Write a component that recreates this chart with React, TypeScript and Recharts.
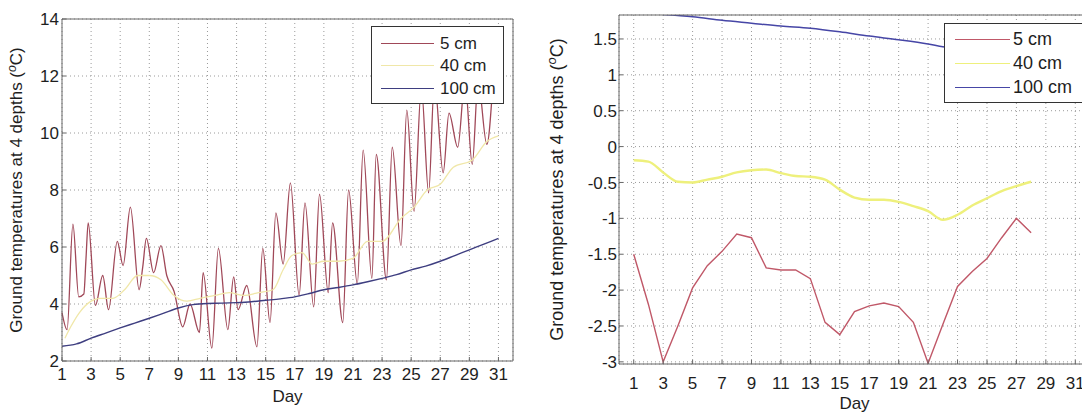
import { LineChart, Line, XAxis, YAxis, CartesianGrid, Legend } from "recharts";

const FONT = "'Liberation Sans', Arial, Helvetica, sans-serif";

// ---- left panel: sub-daily record, 5 cm traced through its peaks and troughs ----
const leftDays5 = [
  1.0, 1.35, 1.75, 2.15, 2.5, 2.65, 2.8, 3.3, 3.8, 4.2, 4.8, 5.2, 5.7, 6.3, 6.55, 6.8, 7.3, 7.8, 8.2, 8.7,
  9.3, 9.8, 10.45, 10.7, 11.3, 11.75, 12.4, 12.8, 13.1, 13.7, 14.4, 14.8, 15.3, 15.7, 16.2, 16.7, 17.3,
  17.7, 18.3, 18.7, 19.3, 19.6, 20.3, 20.7, 21.3, 21.7, 22.3, 22.6, 23.3, 23.7, 24.3, 24.7, 25.2, 25.7,
  26.2, 26.6, 27.2, 27.6, 28.2, 28.7, 29.2, 29.6, 30.2, 30.6,
];
const leftTemp5 = [
  3.7, 3.1, 6.8, 4.25, 4.35, 5.6, 6.85, 3.95, 5.0, 3.8, 6.2, 5.35, 7.4, 4.5, 5.3, 6.3, 5.1, 6.05, 5.0, 4.45,
  3.2, 4.0, 3.0, 5.1, 2.45, 5.95, 3.1, 4.95, 3.8, 4.65, 2.5, 5.95, 3.35, 7.2, 5.4, 8.25, 4.3,
  7.55, 3.9, 7.85, 4.4, 6.85, 3.35, 8.0, 4.7, 9.4, 4.9, 9.25, 4.85, 9.5, 6.05, 10.8, 7.25, 11.6,
  7.9, 11.8, 8.6, 10.7, 9.5, 11.8, 8.9, 11.8, 9.6, 11.6,
];
const leftDays40 = [
  1.2, 1.6, 2.2, 3.0, 3.6, 4.5, 5.3, 6.2, 7.0, 7.8, 8.7, 9.6, 10.5, 11.5, 12.5, 13.5, 14.5, 15.5, 16.2,
  16.8, 17.5, 18.2, 19.0, 20.0, 21.0, 22.0, 23.0, 24.3, 25.2, 26.1, 27.0, 27.9, 29.2, 30.2, 31.0,
];
const leftTemp40 = [
  2.8, 3.2, 3.7, 4.1, 4.2, 4.2, 4.5, 5.0, 5.0, 4.85, 4.3, 4.1, 4.2, 4.3, 4.4, 4.3, 4.4, 4.5, 5.2,
  5.7, 5.8, 5.4, 5.5, 5.5, 5.6, 6.2, 6.2, 7.0, 7.4, 8.0, 8.2, 8.8, 9.05, 9.7, 9.9,
];
const leftDays100 = [
  1, 2, 3, 4, 5, 6, 7, 8, 9, 10, 11, 12, 13, 14, 15, 16, 17, 18, 19, 20, 21, 22, 23, 24, 25, 26, 27, 28, 29, 30, 31,
];
const leftTemp100 = [
  2.52, 2.6, 2.8, 2.98, 3.16, 3.33, 3.5, 3.68, 3.86, 3.98, 4.02, 4.03, 4.05, 4.08, 4.13, 4.18, 4.25, 4.37,
  4.5, 4.58, 4.67, 4.78, 4.9, 5.03, 5.2, 5.33, 5.5, 5.7, 5.9, 6.1, 6.3,
];
const leftTicksX = [1, 3, 5, 7, 9, 11, 13, 15, 17, 19, 21, 23, 25, 27, 29, 31];
const leftTicksY = [2, 4, 6, 8, 10, 12, 14];

// ---- right panel: daily means ----
const rightDays = [
  1, 2, 3, 4, 5, 6, 7, 8, 9, 10, 11, 12, 13, 14, 15, 16, 17, 18, 19, 20, 21, 22, 23, 24, 25, 26, 27, 28,
];
const rightTemp5 = [
  -1.5, -2.2, -3.0, -2.5, -1.97, -1.66, -1.46, -1.22, -1.27, -1.69, -1.72, -1.72, -1.84, -2.45,
  -2.62, -2.3, -2.22, -2.18, -2.23, -2.45, -3.02, -2.48, -1.95, -1.74, -1.56, -1.27, -1.0, -1.2,
];
const rightTemp40 = [
  -0.19, -0.21, -0.36, -0.49, -0.5, -0.46, -0.42, -0.36, -0.33, -0.32, -0.37, -0.41, -0.42, -0.46,
  -0.6, -0.71, -0.74, -0.74, -0.77, -0.83, -0.9, -1.02, -0.95, -0.82, -0.72, -0.62, -0.55, -0.49,
];
const rightDays100 = [3, 5, 7, 9, 11, 13, 15, 17, 19, 21, 22, 24, 26, 28];
const rightTemp100 = [1.84, 1.81, 1.76, 1.72, 1.68, 1.65, 1.6, 1.54, 1.49, 1.43, 1.39, 1.34, 1.29, 1.25];
const rightTicksX = [1, 3, 5, 7, 9, 11, 13, 15, 17, 19, 21, 23, 25, 27, 29, 31];
const rightTicksY = [-3, -2.5, -2, -1.5, -1, -0.5, 0, 0.5, 1, 1.5];

const seriesNames = ["5 cm", "40 cm", "100 cm"];
const leftColors = ["#a04858", "#f0e7a8", "#3e3e80"];
const rightColors = ["#c05868", "#eef07c", "#4646a6"];

const pts = (xs: number[], ys: number[]) => xs.map((d, i) => ({ day: d, t: ys[i] }));

const GRID = "#9a9a9a";
const AXIS = "#666";
const INK = "#1e1e1e";

const yLabel = (dx: number, size: number) => (p: any) => {
  const vb = p.viewBox || { x: 0, y: 0, width: 0, height: 0 };
  const cx = vb.x + vb.width - dx;
  const cy = vb.y + vb.height / 2;
  return (
    <text
      x={cx}
      y={cy}
      transform={`rotate(-90 ${cx} ${cy})`}
      textAnchor="middle"
      fontSize={size}
      fontFamily={FONT}
      fill={INK}
    >
      Ground temperatures at 4 depths (
      <tspan fontStyle="italic" fontSize={size * 0.72} dy={-size * 0.38}>
        o
      </tspan>
      <tspan dy={size * 0.38}>C)</tspan>
    </text>
  );
};

const xLabel = (dy: number, size: number) => (p: any) => {
  const vb = p.viewBox || { x: 0, y: 0, width: 0 };
  return (
    <text x={vb.x + vb.width / 2} y={vb.y + dy} textAnchor="middle" fontSize={size} fontFamily={FONT} fill={INK}>
      Day
    </text>
  );
};

function BoxLegend({ colors, width, row, lineW, padL, padT, gap, size }: any) {
  return (
    <div
      style={{
        width,
        boxSizing: "border-box",
        border: "1px solid #333",
        background: "#fff",
        padding: `${padT}px 0 3px ${padL}px`,
        fontFamily: FONT,
        fontSize: size,
        color: INK,
        lineHeight: 1,
      }}
    >
      {seriesNames.map((n, i) => (
        <div key={n} style={{ display: "flex", alignItems: "center", height: row }}>
          <span
            style={{ display: "inline-block", width: lineW, borderTop: `1.5px solid ${colors[i]}`, marginRight: gap }}
          />
          {n}
        </div>
      ))}
    </div>
  );
}

export default function App() {
  const tick = { fontSize: 17, fill: INK, fontFamily: FONT };
  return (
    <div
      style={{ position: "fixed", left: 0, top: 0, width: 1082, height: 412, overflow: "hidden", background: "#fff" }}
    >
      <div style={{ position: "absolute", left: 0, top: 0 }}>
        <LineChart width={530} height={412} margin={{ top: 14, right: 12, bottom: 21, left: 22 }}>
          <CartesianGrid stroke={GRID} strokeDasharray="1 3" />
          <XAxis
            dataKey="day"
            type="number"
            domain={[1, 32]}
            ticks={leftTicksX}
            height={30}
            tick={tick}
            tickSize={-4}
            tickMargin={11}
            stroke={AXIS}
            allowDuplicatedCategory={false}
            label={xLabel(41, 17)}
          />
          <XAxis
            xAxisId="top"
            orientation="top"
            dataKey="day"
            type="number"
            domain={[1, 32]}
            ticks={leftTicksX}
            height={5}
            tickSize={-4}
            tickFormatter={() => ""}
            stroke={AXIS}
          />
          <YAxis
            type="number"
            domain={[2, 14]}
            ticks={leftTicksY}
            width={40}
            tick={tick}
            tickSize={-4}
            tickMargin={7}
            stroke={AXIS}
            label={yLabel(40, 17)}
          />
          <YAxis
            yAxisId="right"
            orientation="right"
            type="number"
            domain={[2, 14]}
            ticks={leftTicksY}
            width={5}
            tickSize={-4}
            tickFormatter={() => ""}
            stroke={AXIS}
          />
          <Line
            data={pts(leftDays5, leftTemp5)}
            dataKey="t"
            name={seriesNames[0]}
            type="monotone"
            stroke={leftColors[0]}
            strokeWidth={1.3}
            dot={false}
            isAnimationActive={false}
          />
          <Line
            data={pts(leftDays40, leftTemp40)}
            dataKey="t"
            name={seriesNames[1]}
            type="monotone"
            stroke={leftColors[1]}
            strokeWidth={1.3}
            dot={false}
            isAnimationActive={false}
          />
          <Line
            data={pts(leftDays100, leftTemp100)}
            dataKey="t"
            name={seriesNames[2]}
            type="monotone"
            stroke={leftColors[2]}
            strokeWidth={1.4}
            dot={false}
            isAnimationActive={false}
          />
          <Legend
            layout="horizontal"
            verticalAlign="middle"
            align="center"
            wrapperStyle={{ position: "absolute", left: 371, top: 26, width: 133, height: 76 }}
            content={() => (
              <BoxLegend colors={leftColors} width={133} row={22.5} lineW={53} padL={9} padT={5} gap={6} size={17} />
            )}
          />
        </LineChart>
      </div>

      <div style={{ position: "absolute", left: 540, top: 0 }}>
        <LineChart width={560} height={412} margin={{ top: 10, right: 5, bottom: 18, left: 29 }}>
          <CartesianGrid stroke={GRID} strokeDasharray="1 3" />
          <XAxis
            dataKey="day"
            type="number"
            domain={[0, 32]}
            ticks={rightTicksX}
            height={30}
            tick={tick}
            tickSize={-4}
            tickMargin={17}
            stroke={AXIS}
            allowDuplicatedCategory={false}
            label={xLabel(45, 17)}
          />
          <XAxis
            xAxisId="top"
            orientation="top"
            dataKey="day"
            type="number"
            domain={[0, 32]}
            ticks={rightTicksX}
            height={5}
            tickSize={-4}
            tickFormatter={() => ""}
            stroke={AXIS}
          />
          <YAxis
            type="number"
            domain={[-3.03, 1.834]}
            allowDataOverflow
            ticks={rightTicksY}
            width={50}
            tick={tick}
            tickSize={-4}
            tickMargin={6}
            stroke={AXIS}
            label={yLabel(56, 18)}
          />
          <YAxis
            yAxisId="right"
            orientation="right"
            type="number"
            domain={[-3.03, 1.834]}
            allowDataOverflow
            ticks={rightTicksY}
            width={5}
            tickSize={-4}
            tickFormatter={() => ""}
            stroke={AXIS}
          />
          <Line
            data={pts(rightDays, rightTemp5)}
            dataKey="t"
            name={seriesNames[0]}
            type="linear"
            stroke={rightColors[0]}
            strokeWidth={1.4}
            dot={false}
            isAnimationActive={false}
          />
          <Line
            data={pts(rightDays, rightTemp40)}
            dataKey="t"
            name={seriesNames[1]}
            type="monotone"
            stroke={rightColors[1]}
            strokeWidth={2.4}
            dot={false}
            isAnimationActive={false}
          />
          <Line
            data={pts(rightDays100, rightTemp100)}
            dataKey="t"
            name={seriesNames[2]}
            type="monotone"
            stroke={rightColors[2]}
            strokeWidth={1.5}
            dot={false}
            isAnimationActive={false}
          />
          <Legend
            layout="horizontal"
            verticalAlign="middle"
            align="center"
            wrapperStyle={{ position: "absolute", left: 404, top: 23, width: 146, height: 78 }}
            content={() => (
              <BoxLegend colors={rightColors} width={146} row={24} lineW={55} padL={10} padT={3} gap={3} size={18} />
            )}
          />
        </LineChart>
      </div>
    </div>
  );
}
